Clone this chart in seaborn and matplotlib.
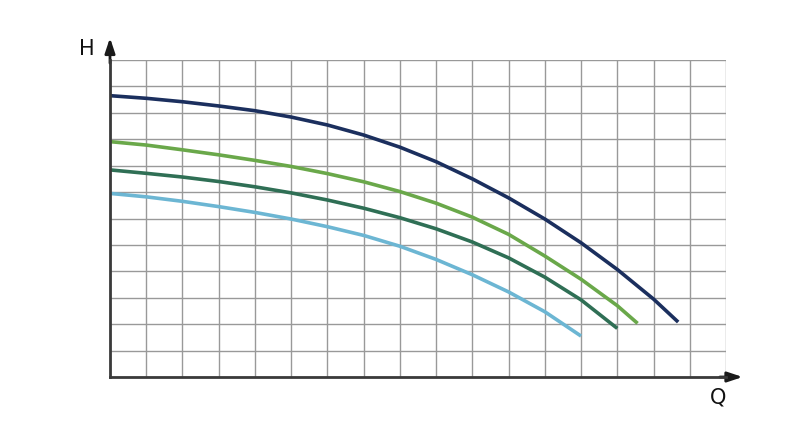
import numpy as np
import pandas as pd
import matplotlib
matplotlib.use("Agg")
import matplotlib.pyplot as plt
import seaborn as sns

# pump curves, in grid units (Q: 0..17, H: 0..12)
q_navy = [0, 1, 2, 3, 4, 5, 6, 7, 8, 9, 10, 11, 12, 13, 14, 15, 15.68]
h_navy = [10.65, 10.55, 10.42, 10.26, 10.08, 9.84, 9.54, 9.16, 8.70, 8.15, 7.50, 6.78, 5.98, 5.08, 4.07, 2.95, 2.08]

q_green = [0, 1, 2, 3, 4, 5, 6, 7, 8, 9, 10, 11, 12, 13, 14, 14.56]
h_green = [8.91, 8.78, 8.60, 8.41, 8.20, 7.97, 7.70, 7.39, 7.02, 6.58, 6.05, 5.40, 4.58, 3.70, 2.70, 2.03]

q_dkgreen = [0, 1, 2, 3, 4, 5, 6, 7, 8, 9, 10, 11, 12, 13, 14]
h_dkgreen = [7.84, 7.71, 7.57, 7.40, 7.20, 6.97, 6.70, 6.39, 6.03, 5.61, 5.11, 4.51, 3.78, 2.92, 1.84]

q_blue = [0, 1, 2, 3, 4, 5, 6, 7, 8, 9, 10, 11, 12, 13]
h_blue = [6.95, 6.82, 6.65, 6.45, 6.23, 5.98, 5.69, 5.36, 4.95, 4.45, 3.87, 3.22, 2.47, 1.55]

curves = {
    "navy": (q_navy, h_navy, "#1b2f5e"),
    "green": (q_green, h_green, "#6aa84a"),
    "dkgreen": (q_dkgreen, h_dkgreen, "#2f6f55"),
    "blue": (q_blue, h_blue, "#6cb6d3"),
}

sns.set_style("white")
fig = plt.figure(figsize=(8, 4.37), dpi=100)
ax = fig.add_axes([0.1375, 0.1373, 0.77, 0.7254])

for name, (q, h, col) in curves.items():
    df = pd.DataFrame({"Q": q, "H": h})
    sns.lineplot(data=df, x="Q", y="H", color=col, linewidth=2.6, ax=ax,
                 solid_capstyle="butt", solid_joinstyle="round")

ax.set_xlim(0, 17)
ax.set_ylim(0, 12)
ax.set_xticks(np.arange(0, 18))
ax.set_yticks(np.arange(0, 13))
ax.tick_params(length=0, labelbottom=False, labelleft=False)
ax.grid(True, color="#999999", linewidth=1.0)
ax.set_axisbelow(True)
ax.set_xlabel("")
ax.set_ylabel("")

for s in ["top", "right"]:
    ax.spines[s].set_visible(False)
for s in ["left", "bottom"]:
    ax.spines[s].set_color("#3a3a3a")
    ax.spines[s].set_linewidth(2)
    ax.spines[s].set_zorder(5)

# axis arrows
ax.annotate("", xy=(1.027, 0), xytext=(0.99, 0), xycoords="axes fraction",
            arrowprops=dict(arrowstyle="-|>,head_length=0.9,head_width=0.3",
                            color="#1a1a1a", lw=2, shrinkA=0, shrinkB=0),
            annotation_clip=False)
ax.annotate("", xy=(0, 1.07), xytext=(0, 0.99), xycoords="axes fraction",
            arrowprops=dict(arrowstyle="-|>,head_length=0.9,head_width=0.3",
                            color="#1a1a1a", lw=2, shrinkA=0, shrinkB=0),
            annotation_clip=False)

fig.text(87 / 800, 1 - 49 / 437, "H", fontsize=15, ha="center", va="center", color="#111111")
fig.text(718 / 800, 1 - 398 / 437, "Q", fontsize=15, ha="center", va="center", color="#111111")

fig.savefig("out.png", dpi=100)
